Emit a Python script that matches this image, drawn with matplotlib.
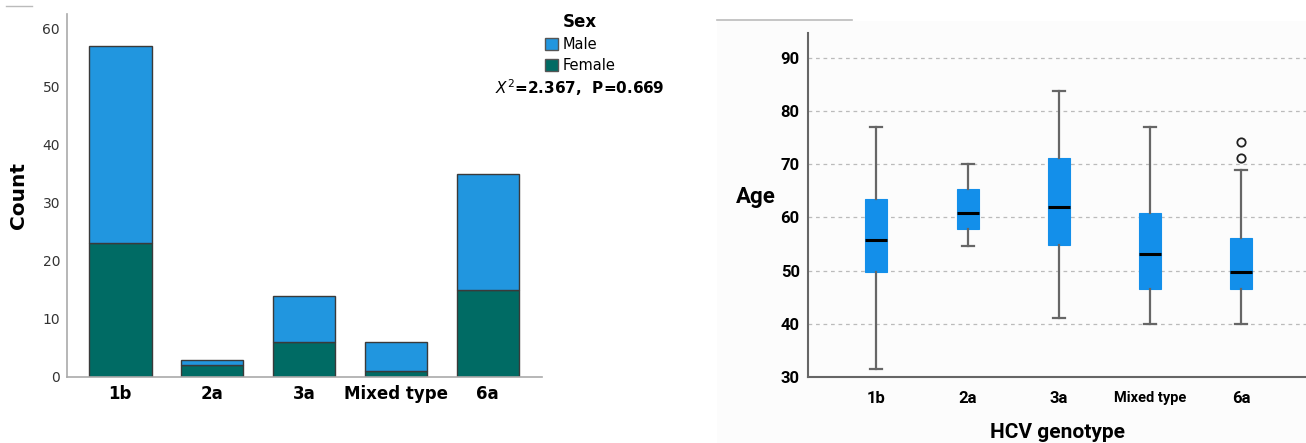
import matplotlib
matplotlib.use("Agg")
import matplotlib.pyplot as plt
from matplotlib.patches import Patch, Rectangle
from matplotlib.lines import Line2D
from matplotlib import font_manager

# ---- data ----
genotypes = ["1b", "2a", "3a", "Mixed type", "6a"]
female_counts = [23, 2, 6, 1, 15]
male_counts = [34, 1, 8, 5, 20]

# age distribution per genotype: lower whisker, Q1, median, Q3, upper whisker
age_whislo = [31.5, 54.7, 41.1, 40.0, 40.0]
age_q1 = [49.7, 57.8, 54.8, 46.6, 46.6]
age_median = [55.7, 60.8, 61.9, 53.1, 49.7]
age_q3 = [63.4, 65.3, 71.1, 60.8, 56.1]
age_whishi = [77.0, 70.0, 83.8, 77.0, 69.0]
age_outliers = [[], [], [], [], [71.1, 74.2]]

male_color = "#2196df"
female_color = "#006b64"
box_color = "#138fea"

fig = plt.figure(figsize=(13.06, 4.43), dpi=100)

# narrow font for the box plot panel
names = {f.name for f in font_manager.fontManager.ttflist}
narrow = "Liberation Sans Narrow" if "Liberation Sans Narrow" in names else "Roboto"

# ---------- stacked bar chart ----------
ax1 = fig.add_axes([0.0513, 0.149, 0.3637, 0.819])
x = list(range(len(genotypes)))
ax1.bar(x, female_counts, width=0.68, color=female_color,
        edgecolor="#3a3a3a", linewidth=1.0, zorder=2)
ax1.bar(x, male_counts, bottom=female_counts, width=0.68, color=male_color,
        edgecolor="#3a3a3a", linewidth=1.0, zorder=2)
ax1.set_xlim(-0.58, 4.59)
ax1.set_ylim(0, 62.5)
ax1.set_yticks(range(0, 61, 10))
ax1.set_xticks(x)
ax1.set_xticklabels(genotypes, fontsize=12, fontweight="bold", family="DejaVu Sans")
ax1.tick_params(axis="x", length=0, pad=6)
ax1.tick_params(axis="y", length=0, labelsize=10, labelcolor="#333333", pad=5)
for s in ("top", "right"):
    ax1.spines[s].set_visible(False)
for s in ("left", "bottom"):
    ax1.spines[s].set_color("#aaaaaa")
    ax1.spines[s].set_linewidth(1.2)
ax1.set_ylabel("Count", fontsize=14.5, fontweight="bold", va="center")
ax1.yaxis.set_label_coords(-0.103, 0.5)

handles = [Patch(facecolor=male_color, edgecolor="#555555", label="Male"),
           Patch(facecolor=female_color, edgecolor="#555555", label="Female")]
leg = fig.legend(handles=handles, title="Sex", loc="upper left",
                 bbox_to_anchor=(545 / 1306, 1 - 13 / 443), frameon=False, fontsize=10.5,
                 title_fontproperties={"weight": "bold", "size": 12},
                 handlelength=0.9, handleheight=0.9, handletextpad=0.3,
                 labelspacing=0.4, borderaxespad=0, borderpad=0)
leg._legend_box.align = "center"
fig.text(580 / 1306, 1 - 88 / 443, r"$\mathit{X}^{2}$=2.367,  P=0.669", fontsize=11,
         fontweight="bold", ha="center", va="center")

# small rule in the top-left corner
fig.add_artist(Line2D([6 / 1306, 32 / 1306], [1 - 6 / 443] * 2,
                      color="#bbbbbb", lw=1.0))

# ---------- box plot ----------
# faint panel background
fig.add_artist(Rectangle((717 / 1306, 0), 1 - 717 / 1306, 1 - 21 / 443,
                         transform=fig.transFigure, facecolor="#fcfcfc",
                         edgecolor="none", zorder=0))
fig.add_artist(Line2D([717 / 1306, 852 / 1306], [1 - 20 / 443] * 2,
                      color="#bbbbbb", lw=1.2))

ax2 = fig.add_axes([0.6187, 0.149, 0.3813, 0.7765])
ax2.patch.set_alpha(0)
stats = []
for i, g in enumerate(genotypes):
    stats.append(dict(label=g, whislo=age_whislo[i], q1=age_q1[i], med=age_median[i],
                      q3=age_q3[i], whishi=age_whishi[i], fliers=age_outliers[i]))
ax2.bxp(stats, positions=x, widths=0.24, patch_artist=True, showfliers=True,
        boxprops=dict(facecolor=box_color, edgecolor=box_color, linewidth=0.8),
        medianprops=dict(color="black", linewidth=2.2),
        whiskerprops=dict(color="#666666", linewidth=1.6),
        capprops=dict(color="#666666", linewidth=1.6),
        capwidths=0.13,
        flierprops=dict(marker="o", markerfacecolor="none", markeredgecolor="#222222",
                        markersize=6, markeredgewidth=1.3))
ax2.set_xlim(-0.75, 4.71)
ax2.set_ylim(30, 94.7)
ax2.set_yticks(range(30, 91, 10))
ax2.yaxis.grid(True, linestyle=(0, (3, 3)), color="#bbbbbb", linewidth=0.9)
ax2.set_axisbelow(True)
ax2.set_xticks(x)
ax2.set_xticklabels(genotypes, family=narrow, fontweight="bold", fontsize=12)
for lab in ax2.get_xticklabels():
    if lab.get_text() == "Mixed type":
        lab.set_fontsize(10.5)
for lab in ax2.get_yticklabels():
    lab.set_family(narrow)
    lab.set_fontweight("bold")
    lab.set_fontsize(12)
ax2.tick_params(axis="x", length=0, pad=10)
ax2.tick_params(axis="y", length=0, pad=6)
for s in ("top", "right"):
    ax2.spines[s].set_visible(False)
for s in ("left", "bottom"):
    ax2.spines[s].set_color("#666666")
    ax2.spines[s].set_linewidth(1.5)
ax2.set_ylabel("Age", family=narrow, fontweight="bold", fontsize=16,
               rotation=0, va="center", ha="center")
ax2.yaxis.set_label_coords(-0.105, 0.523)
ax2.set_xlabel("HCV genotype", family=narrow, fontweight="bold", fontsize=15,
               labelpad=12)

fig.savefig("out.png", dpi=100)
